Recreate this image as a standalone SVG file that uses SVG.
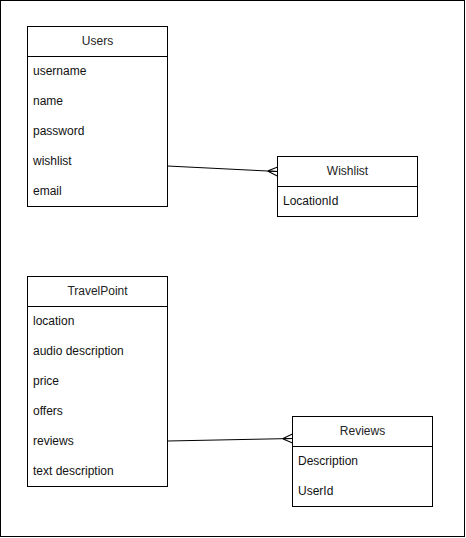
<svg xmlns="http://www.w3.org/2000/svg" width="466" height="538" viewBox="0 0 466 538">
  <defs>
    <style>
      .box { fill: #ffffff; stroke: #000000; stroke-width: 1; }
      .sep { stroke: #000000; stroke-width: 1; fill: none; }
      .title { font-family: "Liberation Sans", Arial, sans-serif; font-size: 12px; fill: #222222; text-anchor: middle; }
      .field { font-family: "Liberation Sans", Arial, sans-serif; font-size: 12px; fill: #111111; }
      .link { stroke: #000000; stroke-width: 1; fill: none; }
    </style>
    <!-- crow's foot (many) end -->
    <marker id="many" markerUnits="userSpaceOnUse" markerWidth="12" markerHeight="12" refX="10" refY="6" orient="auto" viewBox="0 0 12 12">
      <path d="M0,6 L10,1.5 M0,6 L10,6 M0,6 L10,10.5" stroke="#000" stroke-width="1" fill="none"/>
    </marker>
  </defs>

  <rect x="0.5" y="0.5" width="464" height="536" fill="#ffffff" stroke="#000000"/>

  <g id="connectors">
    <path class="link" d="M167.5,166 L277.5,171.5" marker-end="url(#many)"/>
    <path class="link" d="M167.5,441 L292.5,438.5" marker-end="url(#many)"/>
  </g>

  <g id="users">
    <rect class="box" x="27.5" y="26.5" width="140" height="180"/>
    <line class="sep" x1="27.5" y1="56.5" x2="167.5" y2="56.5"/>
    <text class="title" x="97.5" y="44.5">Users</text>
    <text class="field" x="33" y="74.5">username</text>
    <text class="field" x="33" y="104.5">name</text>
    <text class="field" x="33" y="134.5">password</text>
    <text class="field" x="33" y="164.5">wishlist</text>
    <text class="field" x="33" y="194.5">email</text>
  </g>

  <g id="wishlist">
    <rect class="box" x="277.5" y="156.5" width="140" height="60"/>
    <line class="sep" x1="277.5" y1="186.5" x2="417.5" y2="186.5"/>
    <text class="title" x="347.5" y="174.5">Wishlist</text>
    <text class="field" x="283" y="204.5">LocationId</text>
  </g>

  <g id="travelpoint">
    <rect class="box" x="27.5" y="276.5" width="140" height="210"/>
    <line class="sep" x1="27.5" y1="306.5" x2="167.5" y2="306.5"/>
    <text class="title" x="97.5" y="294.5">TravelPoint</text>
    <text class="field" x="33" y="324.5">location</text>
    <text class="field" x="33" y="354.5">audio description</text>
    <text class="field" x="33" y="384.5">price</text>
    <text class="field" x="33" y="414.5">offers</text>
    <text class="field" x="33" y="444.5">reviews</text>
    <text class="field" x="33" y="474.5">text description</text>
  </g>

  <g id="reviews">
    <rect class="box" x="292.5" y="416.5" width="140" height="90"/>
    <line class="sep" x1="292.5" y1="446.5" x2="432.5" y2="446.5"/>
    <text class="title" x="362.5" y="434.5">Reviews</text>
    <text class="field" x="298" y="464.5">Description</text>
    <text class="field" x="298" y="494.5">UserId</text>
  </g>
</svg>
